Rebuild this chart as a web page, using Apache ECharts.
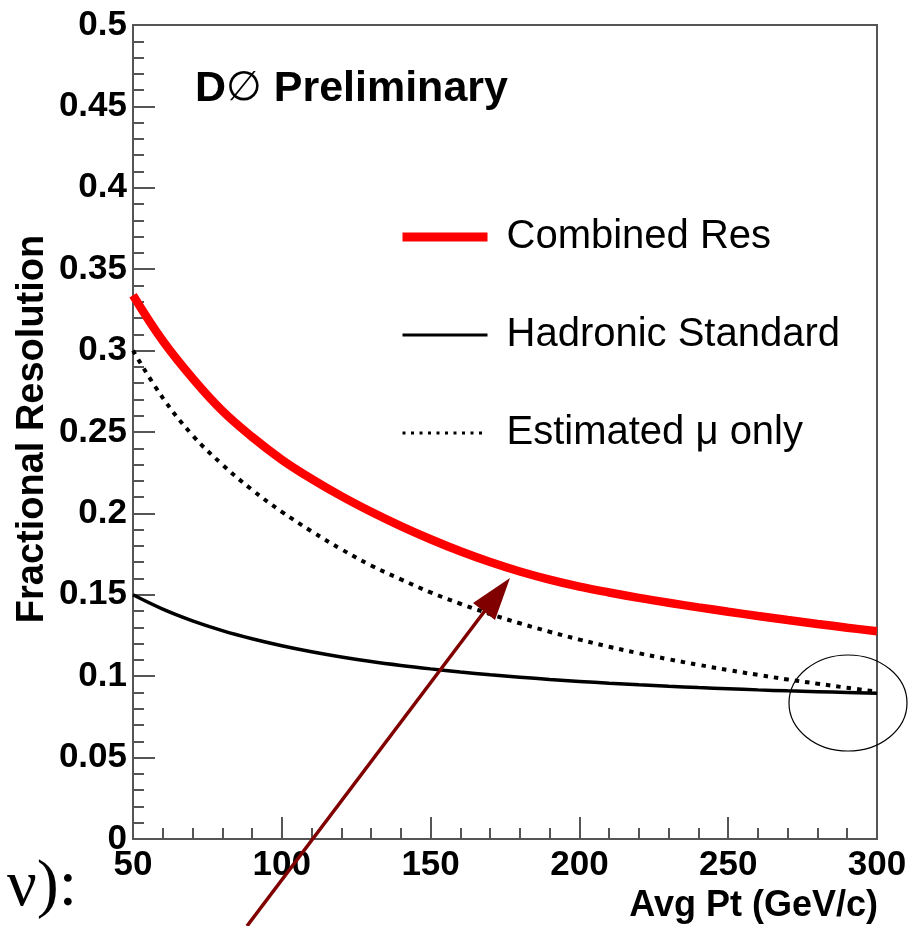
<!DOCTYPE html>
<html>
<head>
<meta charset="utf-8">
<script src="https://cdn.jsdelivr.net/npm/echarts@6/dist/echarts.min.js"></script>
<style>
  html, body { margin: 0; padding: 0; background: #fff; }
  #main { width: 921px; height: 926px; }
</style>
</head>
<body>
<div id="main"></div>
<script>
// Avg Pt (GeV/c) sample points
var pt = [50, 60, 70, 80, 90, 100, 110, 120, 130, 140, 150, 160, 170,
          180, 190, 200, 210, 220, 230, 240, 250, 260, 270, 280, 290, 300];
// Combined Res (red)
var combined = [0.334, 0.306, 0.283, 0.263, 0.247, 0.233, 0.2212, 0.2106, 0.201, 0.1922, 0.1841, 0.1767, 0.1701,
                0.1643, 0.1593, 0.155, 0.1514, 0.1481, 0.1451, 0.1423, 0.1396, 0.137, 0.1345, 0.1321, 0.1298, 0.1276];
// Hadronic Standard (black solid)
var hadronic = [0.150, 0.1412, 0.134, 0.128, 0.123, 0.1187, 0.115, 0.1118, 0.109, 0.1066, 0.1045, 0.1026, 0.1009,
                0.0994, 0.098, 0.0968, 0.0957, 0.0947, 0.0938, 0.093, 0.0923, 0.0916, 0.091, 0.0905, 0.090, 0.0895];
// Estimated mu only (black dotted)
var muOnly = [0.300, 0.271, 0.248, 0.230, 0.2145, 0.201, 0.189, 0.178, 0.168, 0.1595, 0.1515, 0.1445, 0.1382,
              0.1325, 0.1273, 0.1225, 0.1181, 0.1141, 0.1104, 0.107, 0.1038, 0.1008, 0.098, 0.0954, 0.0929, 0.0905];

var names = ['Combined Res', 'Hadronic Standard', 'Estimated \u03bc only'];

var pairs = function(xs, ys) {
    var out = [];
    for (var i = 0; i < xs.length; i++) { out.push([xs[i], ys[i]]); }
    return out;
};

var FONT = '"Liberation Sans", Arial, Helvetica, sans-serif';
var AXIS_COLOR = '#555';

var myChart = echarts.init(document.getElementById('main'));

var option = {
    backgroundColor: '#fff',
    animation: false,
    grid: {
        left: 133, right: 44, top: 25, bottom: 87,
        show: true, borderColor: AXIS_COLOR, borderWidth: 2, backgroundColor: 'transparent'
    },
    legend: {
        orient: 'vertical',
        left: 398,
        top: 217,
        padding: 0,
        itemWidth: 85,
        itemHeight: 40,
        itemGap: 58,
        itemStyle: { opacity: 0 },
        textStyle: { fontFamily: FONT, fontSize: 40, color: '#000', padding: [0, 0, 0, 14] },
        data: [
            { name: names[0], lineStyle: { color: '#ff0000', width: 9 } },
            { name: names[1], lineStyle: { color: '#000', width: 3 } },
            { name: names[2], lineStyle: { color: '#000', width: 3, type: [3, 5.5] } }
        ]
    },
    xAxis: {
        type: 'value',
        min: 50, max: 300, interval: 50,
        axisLine: { show: true, lineStyle: { color: AXIS_COLOR, width: 2 } },
        axisTick: { show: true, inside: true, length: 22, lineStyle: { color: AXIS_COLOR, width: 2 } },
        minorTick: { show: true, splitNumber: 5, length: 11, lineStyle: { color: AXIS_COLOR, width: 2 } },
        splitLine: { show: false },
        axisLabel: { fontFamily: FONT, fontSize: 35, fontWeight: 'bold', color: '#000', margin: 9 }
    },
    yAxis: {
        type: 'value',
        min: 0, max: 0.5, interval: 0.05,
        axisLine: { show: true, lineStyle: { color: AXIS_COLOR, width: 2 } },
        axisTick: { show: true, inside: true, length: 22, lineStyle: { color: AXIS_COLOR, width: 2 } },
        minorTick: { show: true, splitNumber: 5, length: 11, lineStyle: { color: AXIS_COLOR, width: 2 } },
        splitLine: { show: false },
        axisLabel: {
            fontFamily: FONT, fontSize: 35, fontWeight: 'bold', color: '#000', margin: 6,
            formatter: function(v) { return String(Math.round(v * 100) / 100); }
        }
    },
    series: [{
        name: names[0],
        type: 'line',
        data: pairs(pt, combined),
        symbol: 'none', smooth: 0.4,
        lineStyle: { color: '#ff0000', width: 8.5 },
        itemStyle: { color: '#ff0000' },
        z: 3
    }, {
        name: names[1],
        type: 'line',
        data: pairs(pt, hadronic),
        symbol: 'none', smooth: 0.4,
        lineStyle: { color: '#000', width: 3.5 },
        itemStyle: { color: '#000' },
        z: 2
    }, {
        name: names[2],
        type: 'line',
        data: pairs(pt, muOnly),
        symbol: 'none', smooth: 0.4,
        lineStyle: { color: '#000', width: 4, type: [4.5, 6] },
        itemStyle: { color: '#000' },
        z: 2
    }],
    graphic: [{
        type: 'text',
        left: 195, top: 68,
        style: {
            text: '{b|D}{s|\u2205}{b| Preliminary}',
            rich: {
                b: { fontFamily: FONT, fontSize: 43, fontWeight: 'bold', fill: '#000' },
                s: { fontFamily: '"DejaVu Sans", sans-serif', fontSize: 41, fontWeight: 'normal', fill: '#000' }
            }
        }
    }, {
        type: 'text',
        x: 33, y: 429,
        rotation: Math.PI / 2,
        style: {
            text: 'Fractional Resolution',
            fontFamily: FONT, fontSize: 38, fontWeight: 'bold', fill: '#000',
            textAlign: 'center', textVerticalAlign: 'middle'
        }
    }, {
        type: 'text',
        x: 878, y: 906,
        style: {
            text: 'Avg Pt (GeV/c)',
            fontFamily: FONT, fontSize: 36, fontWeight: 'bold', fill: '#000',
            textAlign: 'right', textVerticalAlign: 'middle'
        }
    }, {
        type: 'text',
        x: 7, y: 888,
        style: {
            text: '\u03bd):',
            fontFamily: '"Liberation Serif", "Times New Roman", serif', fontSize: 66, fill: '#000',
            textAlign: 'left', textVerticalAlign: 'middle'
        }
    }, {
        type: 'ellipse',
        shape: { cx: 848, cy: 703, rx: 59, ry: 48 },
        style: { fill: 'none', stroke: '#000', lineWidth: 1.2 },
        z: 10
    }, {
        type: 'line',
        shape: { x1: 247, y1: 926, x2: 490, y2: 604 },
        style: { stroke: '#800000', lineWidth: 3.5 },
        z: 10
    }, {
        type: 'polygon',
        shape: { points: [[510, 578], [473, 603], [495, 620]] },
        style: { fill: '#800000' },
        z: 10
    }]
};

myChart.setOption(option);
</script>
</body>
</html>
